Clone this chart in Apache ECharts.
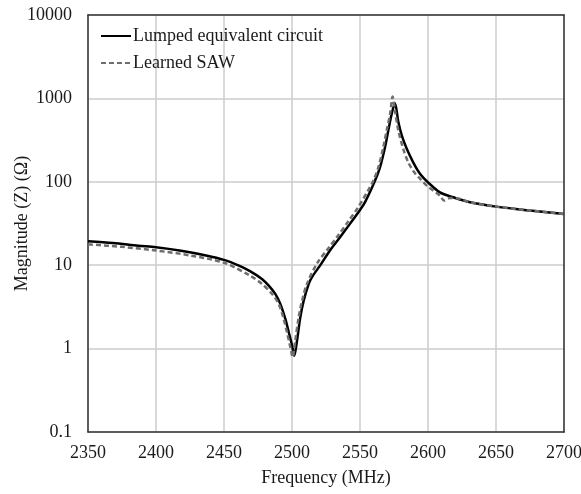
<!DOCTYPE html>
<html>
<head>
<meta charset="utf-8">
<script src="https://cdn.jsdelivr.net/npm/echarts@6/dist/echarts.min.js"></script>
<style>html,body{margin:0;padding:0;background:#fff;}#c{width:581px;height:494px;}</style>
</head>
<body>
<div id="c"></div>
<script>
// Frequency (MHz) and magnitude (Ohm)
const lumpedFreq = [2350, 2368.4, 2387, 2400, 2418.4, 2436.8, 2450, 2461, 2469.1, 2477.9, 2482.9, 2487.7, 2491.4, 2495.1, 2497.6, 2500, 2501.7, 2503.7, 2506.1, 2508.6, 2512.3, 2514.7, 2520.6, 2527.9, 2535.3, 2542.6, 2550, 2553.7, 2561, 2564.7, 2568.4, 2570.8, 2573.3, 2575.7, 2578.2, 2580.7, 2584.3, 2589.2, 2594.1, 2600, 2608.8, 2618.6, 2630.9, 2650, 2675, 2700];
const lumpedMag  = [19.35, 18.4, 17.1, 16.4, 14.9, 13.1, 11.6, 9.9, 8.5, 6.85, 5.69, 4.53, 3.44, 2.27, 1.57, 1.1, 0.82, 1.25, 2.37, 3.76, 5.97, 7.2, 9.89, 15.0, 21.6, 31.3, 46, 57, 103, 149, 259, 411, 652, 873, 520, 360, 250, 170, 125, 98.6, 74.8, 65.2, 56.8, 50.4, 45.2, 41.2];

const sawFreq = [2350, 2375, 2400, 2425, 2450, 2469.1, 2477.9, 2485.3, 2490.2, 2493.9, 2496.3, 2498.8, 2500.5, 2502.4, 2504.9, 2507.4, 2511, 2518.4, 2526.5, 2533.8, 2541.2, 2548.5, 2555.9, 2559.8, 2563.5, 2567.1, 2569.6, 2572.1, 2574, 2575.7, 2578.2, 2581.8, 2585.5, 2589.9, 2594.1, 2599, 2603.9, 2608.8, 2611.8, 2616.2, 2623.5, 2630.9, 2650, 2675, 2700];
const sawMag  = [17.8, 16.6, 15.0, 13.1, 10.7, 7.5, 5.97, 4.53, 3.44, 2.27, 1.57, 1.04, 0.79, 1.25, 2.37, 3.76, 5.97, 10.5, 15.8, 22.6, 33.3, 49.1, 78.4, 103, 149, 259, 411, 652, 1051, 714, 411, 248, 171, 130, 109, 90, 78.4, 68.3, 59.5, 64.1, 62.4, 56.8, 50.4, 45.2, 41.2];

const xTicks = [2350, 2400, 2450, 2500, 2550, 2600, 2650, 2700];
const yTickLabels = ['0.1', '1', '10', '100', '1000', '10000'];

const seriesNames = ['Lumped equivalent circuit', 'Learned SAW'];

const FONT = '"Liberation Serif", "Times New Roman", serif';
const TXT = '#1a1a1a';

const chart = echarts.init(document.getElementById('c'), null, {renderer: 'canvas'});
const pairs = (xs, ys) => xs.map((x, i) => [x, ys[i]]);

chart.setOption({
  animation: false,
  backgroundColor: '#fff',
  grid: {left: 88, right: 17, top: 15, bottom: 62, containLabel: false, outerBoundsMode: 'none'},
  legend: {
    orient: 'vertical',
    left: 95,
    top: 21,
    itemWidth: 30,
    itemHeight: 14,
    itemGap: 7,
    itemStyle: {opacity: 0},
    textStyle: {fontFamily: FONT, fontSize: 18, color: TXT, lineHeight: 20, padding: [0, 0, 0, -3]},
    data: seriesNames
  },
  xAxis: [{
    type: 'value', min: 2350, max: 2700, interval: 50,
    name: 'Frequency (MHz)', nameLocation: 'middle', nameGap: 37, nameMoveOverlap: false,
    nameTextStyle: {fontFamily: FONT, fontSize: 18, color: TXT},
    axisLine: {show: true, lineStyle: {color: '#333', width: 1.5}},
    axisTick: {show: false},
    axisLabel: {fontFamily: FONT, fontSize: 18, color: TXT, margin: 12,
      formatter: v => xTicks.includes(v) ? String(v) : ''},
    splitLine: {show: true, lineStyle: {color: '#cccccc', width: 1.5}}
  }, {
    type: 'value', min: 2350, max: 2700, position: 'top',
    axisLine: {show: true, onZero: false, lineStyle: {color: '#333', width: 1.5}},
    axisTick: {show: false}, axisLabel: {show: false}, splitLine: {show: false}
  }],
  yAxis: [{
    type: 'log', logBase: 10, min: 0.1, max: 10000,
    name: 'Magnitude (Z) (Ω)', nameLocation: 'middle', nameGap: 57, nameMoveOverlap: false,
    nameTextStyle: {fontFamily: FONT, fontSize: 18, color: TXT},
    axisLine: {show: true, lineStyle: {color: '#333', width: 1.5}},
    axisTick: {show: false},
    axisLabel: {fontFamily: FONT, fontSize: 18, color: TXT, margin: 16,
      formatter: v => {
        const e = Math.round(Math.log10(v)) + 1;
        return yTickLabels[e] !== undefined ? yTickLabels[e] : '';
      }},
    splitLine: {show: true, lineStyle: {color: '#cccccc', width: 1.5}}
  }, {
    type: 'log', logBase: 10, min: 0.1, max: 10000, position: 'right',
    axisLine: {show: true, onZero: false, lineStyle: {color: '#333', width: 1.5}},
    axisTick: {show: false}, axisLabel: {show: false}, splitLine: {show: false}
  }],
  series: [{
    name: seriesNames[0], type: 'line', data: pairs(lumpedFreq, lumpedMag),
    showSymbol: false, symbol: 'none', smooth: 0.3,
    lineStyle: {color: '#000', width: 2.5}, itemStyle: {color: '#000'}, z: 3
  }, {
    name: seriesNames[1], type: 'line', data: pairs(sawFreq, sawMag),
    showSymbol: false, symbol: 'none', smooth: 0.3,
    lineStyle: {color: '#6e6e6e', width: 2.5, type: [5, 3]}, itemStyle: {color: '#6e6e6e'}, z: 4
  }]
});
</script>
</body>
</html>
